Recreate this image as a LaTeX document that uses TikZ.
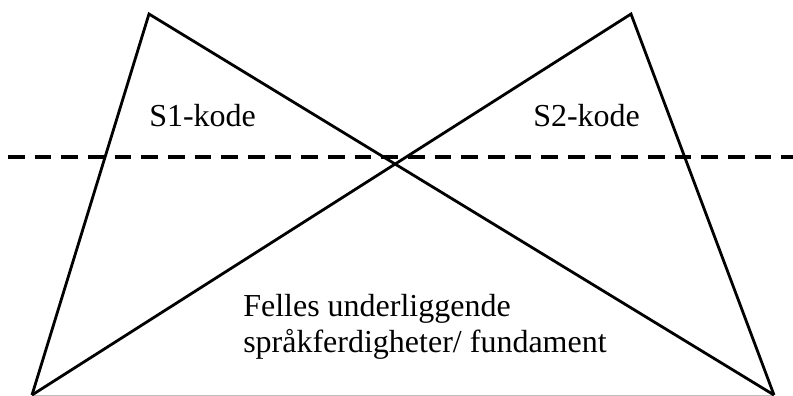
\documentclass[tikz,border=0pt]{standalone}
\usepackage{fontspec}
\setmainfont{Liberation Serif}
\begin{document}
\begin{tikzpicture}[x=0.75pt,y=-0.75pt,
  edge/.style={line width=2.1pt,line join=miter},
  divider/.style={line width=3pt,dash pattern=on 12.5pt off 7.5pt},
  baseline line/.style={line width=0.75pt,draw={rgb,255:red,190;green,190;blue,190}},
  label/.style={font=\fontsize{24}{27}\selectfont,anchor=base west,inner sep=0pt}]
  \useasboundingbox (0,0) rectangle (793,396);
  % corners of the two overlapping triangles
  \coordinate (topL) at (149,14);
  \coordinate (topR) at (631,14);
  \coordinate (botL) at (32,395);
  \coordinate (botR) at (774,395);
  \coordinate (dashA) at (8,157);
  \coordinate (dashB) at (793,157);
  % thin base line
  \draw[baseline line] (botL) -- (botR);
  % triangle edges
  \draw[edge] (botL) -- (topL) -- (botR);
  \draw[edge] (botR) -- (topR) -- (botL);
  % dashed divider
  \draw[divider] (dashA) -- (dashB);
  % labels
  \node[label] (s1) at (149,126) {S1-kode};
  \node[label] (s2) at (533,126) {S2-kode};
  \node[label] (f1) at (243,316) {Felles underliggende};
  \node[label] (f2) at (243,352) {språkferdigheter/ fundament};
\end{tikzpicture}
\end{document}
